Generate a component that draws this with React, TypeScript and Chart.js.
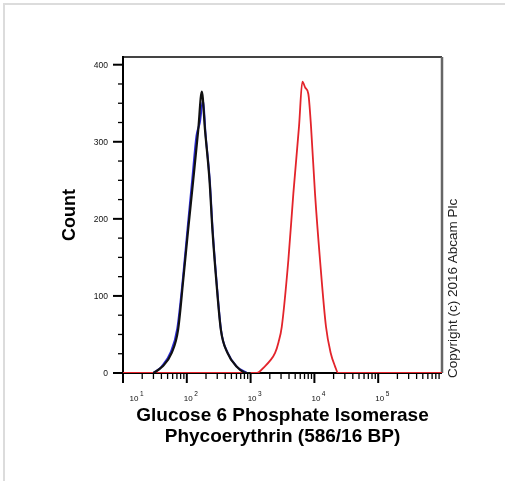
import { useEffect, useRef } from 'react';
import { Chart, registerables } from 'chart.js';

Chart.register(...registerables);

// ---- data ----
const BLACK_X = [30, 41, 58, 73, 88, 105, 126, 151, 172, 193, 227, 252, 289, 342, 434, 608, 873, 1000];
const BLACK_Y = [0, 8, 26, 56, 121, 186, 250, 315, 365, 315, 250, 186, 121, 56, 26, 8, 0, 0];

const BLUE_X = [30, 40, 56, 71, 87, 103, 122, 142, 160, 180, 196, 230, 255, 292, 345, 438, 612, 880];
const BLUE_Y = [0, 8, 27, 58, 123, 188, 252, 308, 325, 354, 312, 248, 184, 120, 55, 26, 8, 0];

const RED_X = [10, 1000, 1250, 1690, 2020, 2420, 2740, 3080, 3910, 4680, 5740, 6480, 7200, 8040, 8850, 10220, 12240, 15200, 18000, 21000, 23600, 30000, 1000000];
const RED_Y = [0, 0, 0, 9, 16, 26, 40, 60, 147, 233, 320, 378, 370, 362, 320, 233, 147, 60, 26, 9, 0, 0, 0];

const X_MIN = 10;
const X_MAX = 1000000;
const Y_MIN = 0;
const Y_MAX = 410;

const X_MAJOR_TICKS = [10, 100, 1000, 10000, 100000];
const X_TICK_EXPONENTS = ['1', '2', '3', '4', '5'];
const X_MINOR_MULTIPLIERS = [2, 3, 4, 5, 6, 7, 8, 9];
const Y_MAJOR_TICKS = [0, 100, 200, 300, 400];
const Y_TICK_LABELS = ['0', '100', '200', '300', '400'];
const Y_MINOR_TICKS = [25, 50, 75, 125, 150, 175, 225, 250, 275, 325, 350, 375];

const X_TITLE = ['Glucose 6 Phosphate Isomerase', 'Phycoerythrin (586/16 BP)'];
const Y_TITLE = 'Count';
const COPYRIGHT = 'Copyright (c) 2016 Abcam Plc';

const FONT = '"Liberation Sans", Arial, Helvetica, sans-serif';

function pts(xs: number[], ys: number[]) {
  return xs.map((x, i) => ({ x, y: ys[i] }));
}

const decor = {
  id: 'decor',
  beforeDraw(chart: any) {
    const ctx = chart.ctx;
    ctx.save();
    ctx.fillStyle = '#ffffff';
    ctx.fillRect(0, 0, chart.width, chart.height);
    ctx.fillStyle = '#dcdcdc';
    ctx.fillRect(3, 3, chart.width - 3, 2);
    ctx.fillRect(3, 3, 2, chart.height - 3);
    ctx.restore();
  },
  beforeDatasetsDraw(chart: any) {
    const { ctx, chartArea: a } = chart;
    ctx.save();
    ctx.strokeStyle = '#444';
    ctx.lineWidth = 2;
    ctx.beginPath();
    ctx.moveTo(a.left, a.top);
    ctx.lineTo(a.right, a.top);
    ctx.stroke();
    ctx.strokeStyle = '#666';
    ctx.lineWidth = 2.5;
    ctx.beginPath();
    ctx.moveTo(a.right, a.top);
    ctx.lineTo(a.right, a.bottom);
    ctx.stroke();
    ctx.strokeStyle = '#000';
    ctx.lineWidth = 2;
    ctx.beginPath();
    ctx.moveTo(a.left, a.top - 1);
    ctx.lineTo(a.left, a.bottom);
    ctx.lineTo(a.right, a.bottom);
    ctx.stroke();
    ctx.restore();
  },
  afterDraw(chart: any) {
    const { ctx, chartArea: a, scales } = chart;
    const xs = scales.x;
    const ys = scales.y;
    ctx.save();
    ctx.strokeStyle = '#000';
    Y_MAJOR_TICKS.forEach((v, i) => {
      const y = ys.getPixelForValue(v);
      ctx.lineWidth = 2;
      ctx.beginPath();
      ctx.moveTo(a.left, y);
      ctx.lineTo(a.left - 10, y);
      ctx.stroke();
      ctx.fillStyle = '#111';
      ctx.font = `8.5px ${FONT}`;
      ctx.textAlign = 'right';
      ctx.textBaseline = 'middle';
      ctx.fillText(Y_TICK_LABELS[i], a.left - 15, y + 1);
    });
    Y_MINOR_TICKS.forEach((v) => {
      const y = ys.getPixelForValue(v);
      ctx.lineWidth = 1.3;
      ctx.beginPath();
      ctx.moveTo(a.left, y);
      ctx.lineTo(a.left - 5, y);
      ctx.stroke();
    });
    X_MAJOR_TICKS.forEach((d, i) => {
      const x = xs.getPixelForValue(d);
      ctx.lineWidth = 2;
      ctx.beginPath();
      ctx.moveTo(x, a.bottom);
      ctx.lineTo(x, a.bottom + 10);
      ctx.stroke();
      X_MINOR_MULTIPLIERS.forEach((m) => {
        const v = d * m;
        if (v > X_MAX) return;
        const mx = xs.getPixelForValue(v);
        ctx.lineWidth = 1.3;
        ctx.beginPath();
        ctx.moveTo(mx, a.bottom);
        ctx.lineTo(mx, a.bottom + 6);
        ctx.stroke();
      });
      const cx = Math.max(x + 1.5, a.left + 11);
      ctx.fillStyle = '#111';
      ctx.font = `8px ${FONT}`;
      ctx.textAlign = 'center';
      ctx.textBaseline = 'middle';
      ctx.fillText('10', cx, a.bottom + 26);
      const w = ctx.measureText('10').width;
      ctx.font = `6.5px ${FONT}`;
      ctx.textAlign = 'left';
      ctx.fillText(X_TICK_EXPONENTS[i], cx + w / 2 + 1.5, a.bottom + 21);
    });
    ctx.fillStyle = '#000';
    ctx.font = `bold 19px ${FONT}`;
    ctx.textAlign = 'center';
    ctx.textBaseline = 'middle';
    const midX = (a.left + a.right) / 2;
    ctx.fillText(X_TITLE[0], midX, 416);
    ctx.fillText(X_TITLE[1], midX, 437);
    ctx.save();
    ctx.translate(70, (a.top + a.bottom) / 2);
    ctx.rotate(-Math.PI / 2);
    ctx.font = `bold 18px ${FONT}`;
    ctx.fillText(Y_TITLE, 0, 0);
    ctx.restore();
    ctx.save();
    ctx.translate(453, 378);
    ctx.rotate(-Math.PI / 2);
    ctx.fillStyle = '#222';
    ctx.font = `13.5px ${FONT}`;
    ctx.textAlign = 'left';
    ctx.textBaseline = 'middle';
    ctx.fillText(COPYRIGHT, 0, 0);
    ctx.restore();
    ctx.restore();
  },
};

export default function App() {
  const ref = useRef<HTMLCanvasElement | null>(null);
  useEffect(() => {
    document.body.style.margin = '0';
    const canvas = ref.current!;
    const chart = new Chart(canvas, {
      type: 'line',
      data: {
        datasets: [
          {
            data: pts(BLACK_X, BLACK_Y),
            borderColor: '#111111',
            borderWidth: 2.2,
            pointRadius: 0,
            cubicInterpolationMode: 'monotone',
          },
          {
            data: pts(BLUE_X, BLUE_Y),
            borderColor: '#2b2bd6',
            borderWidth: 2,
            pointRadius: 0,
            cubicInterpolationMode: 'monotone',
          },
          {
            data: pts(RED_X, RED_Y),
            borderColor: '#e3242b',
            borderWidth: 1.8,
            pointRadius: 0,
            cubicInterpolationMode: 'monotone',
          },
        ],
      },
      options: {
        responsive: false,
        animation: false,
        events: [],
        layout: { padding: { left: 0, right: 63, top: 57, bottom: 0 } },
        plugins: { legend: { display: false }, tooltip: { enabled: false } },
        scales: {
          x: {
            type: 'logarithmic',
            min: X_MIN,
            max: X_MAX,
            ticks: { display: false },
            grid: { display: false },
            border: { display: false },
            afterFit: (s: any) => { s.height = 108; },
          },
          y: {
            type: 'linear',
            min: Y_MIN,
            max: Y_MAX,
            ticks: { display: false },
            grid: { display: false },
            border: { display: false },
            afterFit: (s: any) => { s.width = 123; },
          },
        },
      },
      plugins: [decor],
    } as any);
    return () => chart.destroy();
  }, []);
  return <canvas ref={ref} width={505} height={481} style={{ display: 'block' }} />;
}
